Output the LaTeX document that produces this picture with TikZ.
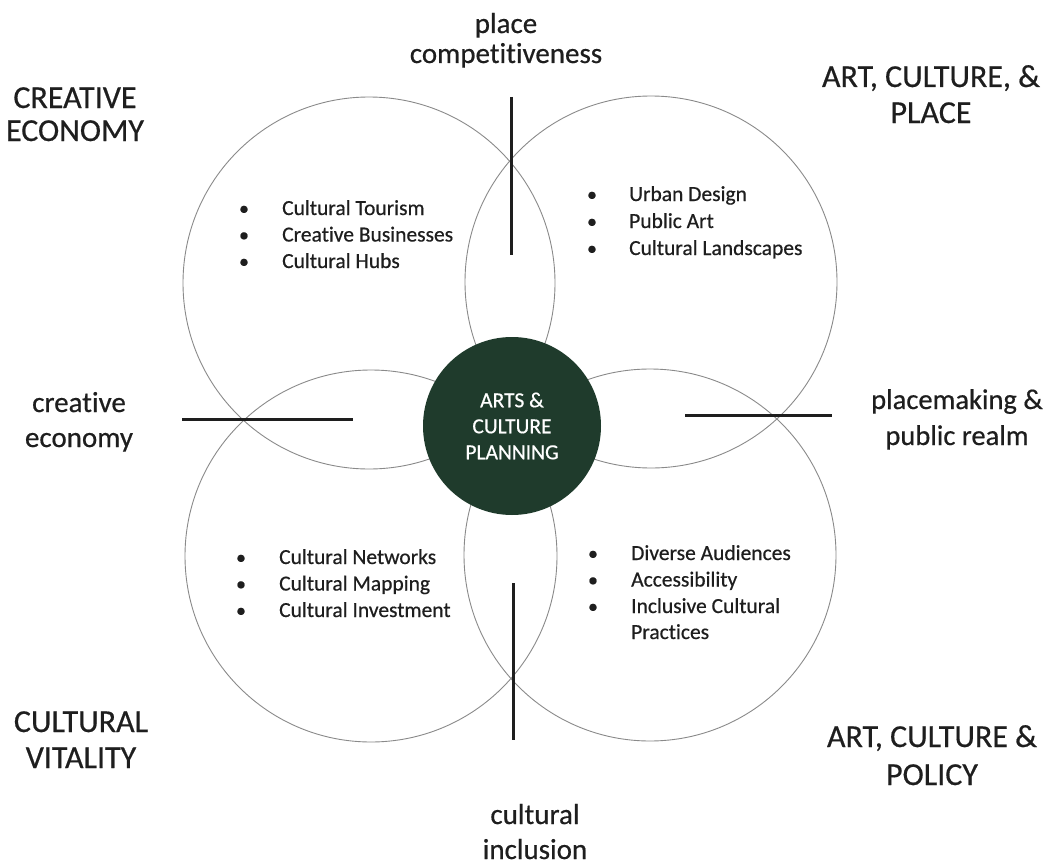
\documentclass[tikz,border=0pt]{standalone}
\usepackage{fontspec}
\setmainfont{Carlito}[Ligatures=NoCommon,FakeBold=0.5]
\definecolor{txt}{HTML}{1E1E1E}
\definecolor{hub}{HTML}{1F3B2C}
\definecolor{ringc}{HTML}{8A8A8A}
\begin{document}
\begin{tikzpicture}[x=1pt,y=-1pt,
 ring/.style={circle,draw=ringc,line width=0.9pt,minimum size=372pt,inner sep=0pt},
 hubnode/.style={circle,fill=hub,minimum size=178pt,inner sep=0pt,text=white,align=center,font=\fontsize{21.5}{26}\selectfont},
 bar/.style={draw=txt,line width=3pt},
 biglabel/.style={text=txt,align=center,anchor=base,inner sep=0pt,font=\fontsize{32}{35}\selectfont},
 smalllabel/.style={text=txt,align=center,anchor=base,inner sep=0pt,font=\fontsize{29}{35}\selectfont},
 item/.style={text=txt,anchor=base west,inner sep=0pt,font=\fontsize{21.5}{24}\selectfont},
 bul/.style={text=txt,anchor=base,inner sep=0pt,font=\fontsize{20}{24}\selectfont},
]
\useasboundingbox (0,0) rectangle (1050,867);
\fill[white] (0,0) rectangle (1050,867);

% four circles
\node[ring] (ctl) at (369,283) {};
\node[ring] (ctr) at (651,282) {};
\node[ring] (cbl) at (371,556) {};
\node[ring] (cbr) at (650,555) {};

% hub
\node[hubnode] (hub) at (512,426) {ARTS \&\\CULTURE\\PLANNING};

% bars
\coordinate (topA) at (511,97);  \coordinate (topB) at (511,255);
\coordinate (lefA) at (182,419); \coordinate (lefB) at (353,419);
\coordinate (rigA) at (685,415); \coordinate (rigB) at (832,415);
\coordinate (botA) at (513,583); \coordinate (botB) at (513,740);
\draw[bar] (topA) -- (topB);
\draw[bar] (lefA) -- (lefB);
\draw[bar] (rigA) -- (rigB);
\draw[bar] (botA) -- (botB);

% outer labels (anchor = baseline of last line)
\node[smalllabel,font=\fontsize{29}{30}\selectfont] (lplace) at (506,63) {place\\competitiveness};
\node[biglabel,font=\fontsize{32}{33}\selectfont] (lce) at (75,141) {CREATIVE\\ECONOMY};
\node[biglabel,font=\fontsize{32}{36}\selectfont] (lacp) at (931,123) {ART, CULTURE, \&\\PLACE};
\node[smalllabel] (lcre) at (79,447) {creative\\economy};
\node[smalllabel,font=\fontsize{28.5}{36}\selectfont] (lpm) at (957,445) {placemaking \&\\public realm};
\node[biglabel,font=\fontsize{32}{36}\selectfont] (lcv) at (81,768) {CULTURAL\\VITALITY};
\node[biglabel,font=\fontsize{32}{38}\selectfont] (lpol) at (932,785) {ART, CULTURE \&\\POLICY};
\node[smalllabel] (lci) at (535,859) {cultural\\inclusion};

% lists
\foreach \t [count=\i] in {Cultural Tourism, Creative Businesses, Cultural Hubs}{
  \node[bul] (tlb\i) at (244,{215+26.5*(\i-1)}) {•};
  \node[item] (tli\i) at (282,{215+26.5*(\i-1)}) {\t};
}
\foreach \t [count=\i] in {Urban Design, Public Art, Cultural Landscapes}{
  \node[bul] (trb\i) at (592,{201+27*(\i-1)}) {•};
  \node[item] (tri\i) at (629,{201+27*(\i-1)}) {\t};
}
\foreach \t [count=\i] in {Cultural Networks, Cultural Mapping, Cultural Investment}{
  \node[bul] (blb\i) at (241,{564+26.5*(\i-1)}) {•};
  \node[item] (bli\i) at (279,{564+26.5*(\i-1)}) {\t};
}
\foreach \t [count=\i] in {Diverse Audiences, Accessibility, Inclusive Cultural}{
  \node[bul] (brb\i) at (593,{560+26.5*(\i-1)}) {•};
  \node[item] (bri\i) at (631,{560+26.5*(\i-1)}) {\t};
}
\node[item] (bri4) at (631,639) {Practices};
\end{tikzpicture}
\end{document}
